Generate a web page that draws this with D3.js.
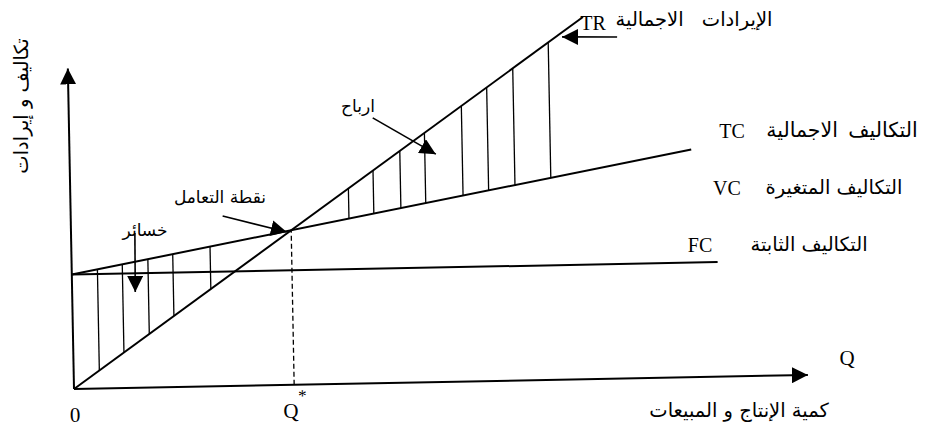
<!DOCTYPE html>
<html>
<head>
<meta charset="utf-8">
<script src="https://cdn.jsdelivr.net/npm/d3@7"></script>
<style>
  body { margin: 0; background: #fff; }
  text { fill: #000; }
</style>
</head>
<body>
<div id="chart"></div>
<script>
// values: quantity q on x, money on y
const trPoints = [[0, 0], [70.3, 126.5]];
const tcPoints = [[0, 40], [84.7, 79.5]];
const fcPoints = [[0, 40], [88, 40]];
const breakEvenQ = 30;
const lossHatchQ = [3.5, 6.9, 10.4, 13.8, 18.9];
const profitHatchQ = [37.9, 41.3, 45, 48.4, 53.5, 57, 60.6, 65.5];
const axisMax = [100, 112];
const tickValues = [0, breakEvenQ];
const tickLabels = ["0", "Q"];
const lineCodes = ["TR", "TC", "VC", "FC"];
const lineNamesAr = ["الإيرادات الاجمالية", "التكاليف الاجمالية", "التكاليف المتغيرة", "التكاليف الثابتة"];
const noteTexts = ["نقطة التعامل", "خسائر", "ارباح"];
// annotation arrows: [from, to] in chart units
const noteArrows = [
  [[20.7, 59.4], [29.4, 53.4]],
  [[8.7, 54.1], [8.6, 33.5]],
  [[41.4, 92.7], [49.9, 79.6]],
  [[74.9, 119.3], [67.4, 119.7]]
];
const axisTitles = ["كمية الإنتاج و المبيعات", "تكاليف و إيرادات"];

const W = 931, H = 437;
const ox = 74, oy = 389;
const latin = "'Liberation Serif', 'Times New Roman', serif";
const arabic = "'DejaVu Sans', sans-serif";

const svg = d3.select("#chart").append("svg")
  .attr("width", W)
  .attr("height", H);

const defs = svg.append("defs");
defs.append("marker")
  .attr("id", "head")
  .attr("markerUnits", "userSpaceOnUse")
  .attr("viewBox", "0 -8 16 16")
  .attr("markerWidth", 16)
  .attr("markerHeight", 16)
  .attr("refX", 16)
  .attr("refY", 0)
  .attr("orient", "auto")
  .append("path")
  .attr("d", "M0,-8L16,0L0,8Z")
  .attr("fill", "#000");

const x = d3.scaleLinear().domain([0, 100]).range([0, 734]);
const y = d3.scaleLinear().domain([0, 112]).range([0, -320.6]);

function at(pts, q) {
  const [a, b] = pts;
  return a[1] + (b[1] - a[1]) * (q - a[0]) / (b[0] - a[0]);
}

const line = d3.line().x(d => x(d[0])).y(d => y(d[1]));

// the scanned drawing is tilted about 1 degree
const g = svg.append("g")
  .attr("transform", "translate(" + ox + "," + oy + ") rotate(-1.1)");

// axes
g.append("path")
  .attr("d", line([[0, 0], [axisMax[0], 0]]))
  .attr("stroke", "#000").attr("stroke-width", 2).attr("fill", "none")
  .attr("marker-end", "url(#head)");
g.append("path")
  .attr("d", line([[0, 0], [0, axisMax[1]]]))
  .attr("stroke", "#000").attr("stroke-width", 2).attr("fill", "none")
  .attr("marker-end", "url(#head)");

// hatching between revenue and total cost
g.selectAll(".hatch")
  .data(lossHatchQ.concat(profitHatchQ))
  .enter()
  .append("path")
  .attr("class", "hatch")
  .attr("d", q => line([[q, at(tcPoints, q)], [q, at(trPoints, q)]]))
  .attr("stroke", "#000")
  .attr("stroke-width", 1.3);

// break-even drop line
g.append("path")
  .attr("d", line([[breakEvenQ, 0], [breakEvenQ, at(trPoints, breakEvenQ)]]))
  .attr("stroke", "#000")
  .attr("stroke-width", 1.3)
  .attr("stroke-dasharray", "5,3");

// FC, TC, TR
g.selectAll(".curve")
  .data([fcPoints, tcPoints, trPoints])
  .enter()
  .append("path")
  .attr("class", "curve")
  .attr("d", line)
  .attr("fill", "none")
  .attr("stroke", "#000")
  .attr("stroke-width", 2);

// annotation arrows
g.selectAll(".note")
  .data(noteArrows)
  .enter()
  .append("path")
  .attr("class", "note")
  .attr("d", line)
  .attr("stroke", "#000")
  .attr("stroke-width", 1.6)
  .attr("fill", "none")
  .attr("marker-end", "url(#head)");

// tick labels 0 and Q*
const xAxis = d3.axisBottom(x)
  .tickValues(tickValues)
  .tickSize(0)
  .tickPadding(18)
  .tickFormat((d, i) => tickLabels[i]);
const ax = g.append("g").call(xAxis);
ax.select(".domain").remove();
ax.selectAll("text")
  .attr("font-family", latin)
  .attr("font-size", 21);
ax.selectAll("text").filter((d, i) => i === 1)
  .append("tspan")
  .attr("dy", -16)
  .attr("font-size", 17)
  .text("*");

// line labels
const codePos = [[593, 30], [732, 138], [727, 195], [700, 252]];
const namePos = [[694, 26], [842, 137], [834, 194], [809, 251]];
const nameGap = [12, 4, 0, 0];
const nameSize = [19.5, 20.5, 19.5, 19.5];
svg.selectAll(".code")
  .data(lineCodes)
  .enter()
  .append("text")
  .attr("class", "code")
  .attr("x", (d, i) => codePos[i][0])
  .attr("y", (d, i) => codePos[i][1])
  .attr("text-anchor", "middle")
  .attr("font-family", latin)
  .attr("font-size", 20)
  .text(d => d);
svg.selectAll(".name")
  .data(lineNamesAr)
  .enter()
  .append("text")
  .attr("class", "name")
  .attr("x", (d, i) => namePos[i][0])
  .attr("y", (d, i) => namePos[i][1])
  .attr("text-anchor", "middle")
  .attr("font-family", arabic)
  .attr("font-size", (d, i) => nameSize[i])
  .attr("word-spacing", (d, i) => nameGap[i])
  .text(d => d);

// notes
const notePos = [[220, 203], [145, 236], [358, 112]];
svg.selectAll(".notetext")
  .data(noteTexts)
  .enter()
  .append("text")
  .attr("class", "notetext")
  .attr("x", (d, i) => notePos[i][0])
  .attr("y", (d, i) => notePos[i][1])
  .attr("text-anchor", "middle")
  .attr("font-family", arabic)
  .attr("font-size", 17)
  .text(d => d);

// axis names
svg.append("text")
  .attr("x", 847).attr("y", 365)
  .attr("text-anchor", "middle")
  .attr("font-family", latin)
  .attr("font-size", 21)
  .text("Q");
svg.append("text")
  .attr("x", 739).attr("y", 417)
  .attr("text-anchor", "middle")
  .attr("font-family", arabic)
  .attr("font-size", 19.5)
  .text(axisTitles[0]);
svg.append("text")
  .attr("transform", "translate(28,106) rotate(-90)")
  .attr("text-anchor", "middle")
  .attr("font-family", arabic)
  .attr("font-size", 19.5)
  .text(axisTitles[1]);
</script>
</body>
</html>
